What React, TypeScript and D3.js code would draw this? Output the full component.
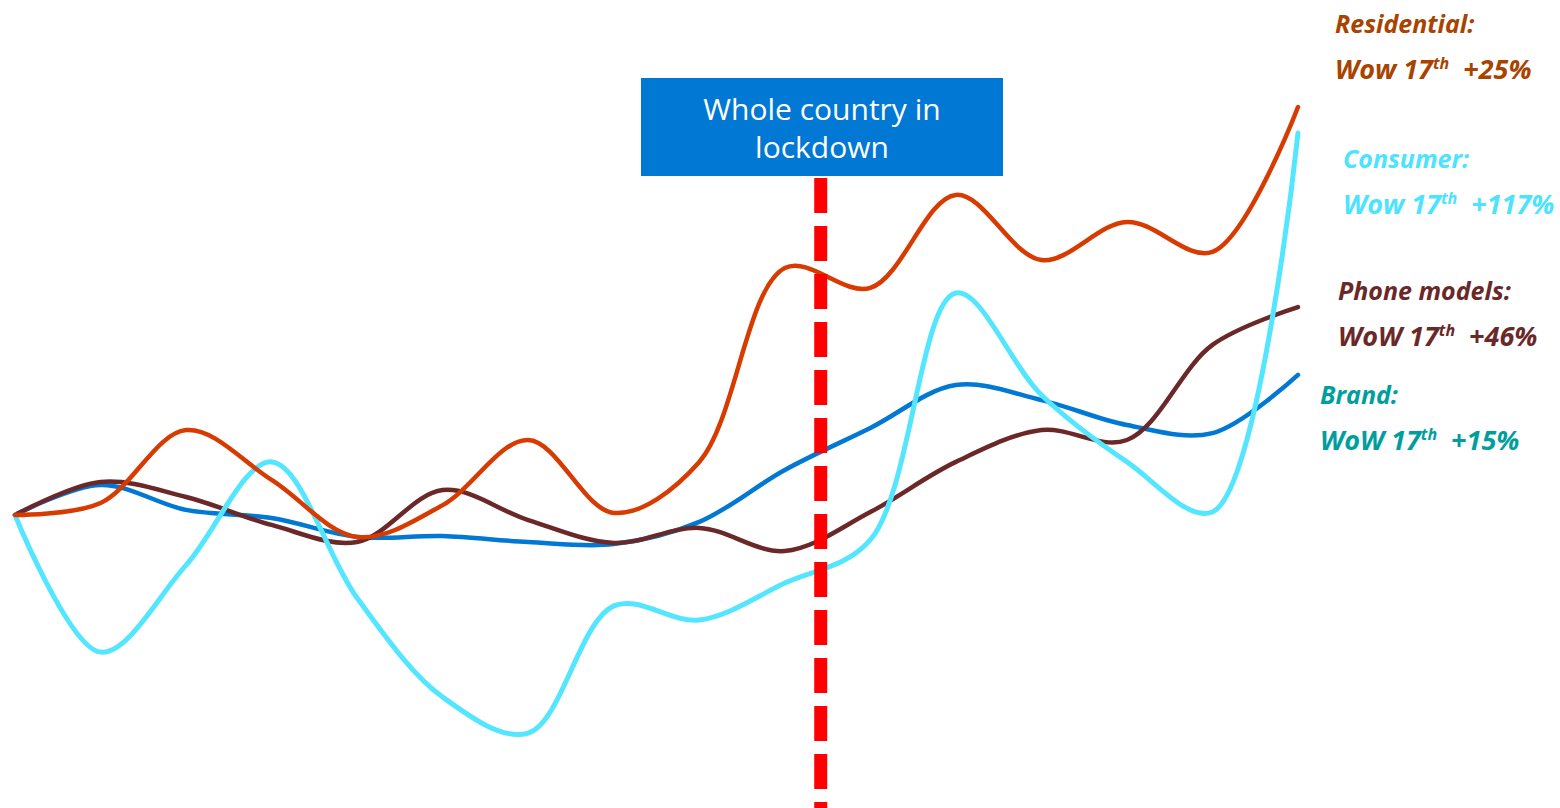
import React from "react";
import * as d3 from "d3";

const weeks = ["W1","W2","W3","W4","W5","W6","W7","W8","W9","W10","W11","W12","W13","W14","W15","W16"];
// index, first week = 100
const residential = [100, 104, 128.3, 111.7, 92.7, 103.3, 125, 100.7, 117.7, 182.3, 175.7, 206.7, 185, 197.7, 187.7, 236];
const consumer = [100, 54.3, 83.3, 117.7, 72.3, 39.3, 27.3, 69.7, 65, 77.3, 91.7, 174, 140, 117.7, 101, 227.3];
const brand = [100, 110, 101.7, 99, 92.7, 93, 91, 90.3, 97.7, 115, 129, 143.3, 138.3, 130, 127.3, 146.7];
const phoneModels = [100, 111, 106, 96.7, 91, 108.3, 98.3, 90.7, 95.7, 88, 101, 117.7, 128.3, 125, 156.7, 169.3];
const lockdownIndex = 9.42;

const seriesNames = ["Brand", "Phone models", "Consumer", "Residential"];
const seriesValues = [brand, phoneModels, consumer, residential];
const seriesColors = ["#0078D4", "#6B2828", "#55E6FF", "#D83B01"];

const labelTitles = ["Residential:", "Consumer:", "Phone models:", "Brand:"];
const labelPrefix = ["Wow 17", "Wow 17", "WoW 17", "WoW 17"];
const labelChange = ["+25%", "+117%", "+46%", "+15%"];
const labelColors = ["#A84300", "#4DE3FF", "#6B2828", "#009E9E"];

export default function App() {
  const W = 1560, H = 808;
  const x = d3.scaleLinear().domain([0, weeks.length - 1]).range([15, 1298]);
  const y = d3.scaleLinear().domain([0, 250]).range([815, 65]);
  const line = d3.line<number>()
    .x((_, i) => x(i))
    .y((d) => y(d))
    .curve(d3.curveCatmullRom.alpha(0.5));

  const labelPos = [
    { x: 1335, y: 33 },
    { x: 1343, y: 168 },
    { x: 1338, y: 300 },
    { x: 1320, y: 404 },
  ];
  const lx = x(lockdownIndex);

  return (
    <svg width={W} height={H} style={{ position: "absolute", left: 0, top: 0, background: "#fff" }}
      fontFamily="'Open Sans', 'Noto Sans', sans-serif">
      {seriesValues.map((vals, k) => (
        <path key={seriesNames[k]} d={line(vals) || ""} fill="none" stroke={seriesColors[k]}
          strokeWidth={k === 2 ? 5 : 4.5} strokeLinecap="round" strokeLinejoin="round" />
      ))}
      <line x1={lx} x2={lx} y1={178} y2={H} stroke="#FF0000" strokeWidth={13} strokeDasharray="35 13" />
      <rect x={641} y={78} width={362} height={98} fill="#0078D4" />
      <text x={822} y={120} fill="#fff" fontSize={30} textAnchor="middle">Whole country in</text>
      <text x={822} y={158} fill="#fff" fontSize={30} textAnchor="middle">lockdown</text>
      {labelTitles.map((t, k) => (
        <g key={t} fill={labelColors[k]} fontWeight="bold" fontStyle="italic">
          <text x={labelPos[k].x} y={labelPos[k].y} fontSize={25}>{t}</text>
          <text x={labelPos[k].x} y={labelPos[k].y + 46} fontSize={27}>
            {labelPrefix[k]}
            <tspan fontSize={16} dy={-10}>th</tspan>
            <tspan dy={10} dx={7}>{" "}{labelChange[k]}</tspan>
          </text>
        </g>
      ))}
    </svg>
  );
}
